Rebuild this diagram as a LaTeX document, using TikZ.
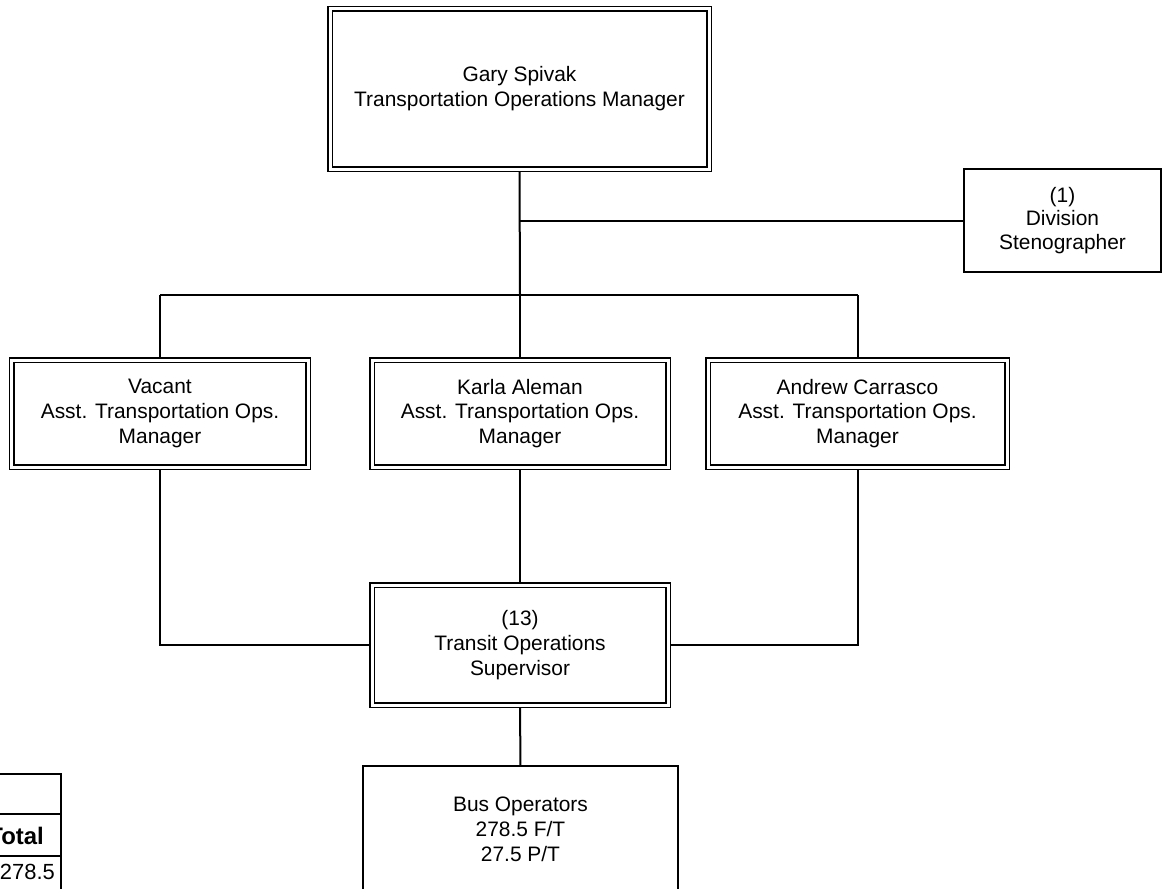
\documentclass[tikz,border=0pt]{standalone}
\usepackage{fontspec}
\setmainfont{Liberation Sans}
\tikzset{
  every node/.style={font=\fontsize{21}{25}\selectfont, align=center, inner sep=0pt},
  dbox/.style={draw, line width=1.5bp, double, double distance=3bp, outer sep=2.2bp,
    minimum width=296bp, minimum height=107bp},
  sbox/.style={draw, line width=1.8bp, outer sep=0pt},
  conn/.style={line width=2bp},
  tline/.style={line width=2.6bp},
  thinl/.style={line width=1.4bp}
}
\begin{document}
\begin{tikzpicture}[x=1bp, y=-1bp]
\useasboundingbox (0,0) rectangle (1162,889);
% nodes
\node[dbox, minimum width=379bp, minimum height=160bp] (top) at (519.5,89) {Gary Spivak\\Transportation Operations Manager};
\node[sbox, minimum width=197bp, minimum height=103bp, font=\fontsize{21}{24}\selectfont] (steno) at (1062.5,220.5) {(1)\\Division\\Stenographer};
\node[dbox] (vac) at (160,413.5) {Vacant\\Asst. Transportation Ops.\\Manager};
\node[dbox] (karla) at (520,413.5) {Karla Aleman\\Asst. Transportation Ops.\\Manager};
\node[dbox, minimum width=299bp] (andrew) at (857.5,413.5) {Andrew Carrasco\\Asst. Transportation Ops.\\Manager};
\node[dbox, minimum height=120bp] (sup) at (520,645) {(13)\\Transit Operations\\Supervisor};
\node[sbox, minimum width=315bp, minimum height=126bp] (bus) at (520.5,829) {Bus Operators\\278.5 F/T\\27.5 P/T};
% connectors
\coordinate (j1) at (top.south |- steno.west);
\coordinate (j2) at (520,295);
\coordinate (jl) at (vac.north |- j2);
\coordinate (jr) at (andrew.north |- j2);
\coordinate (bl) at (vac.south |- sup.west);
\coordinate (br) at (andrew.south |- sup.east);
\draw[conn] (top.south) -- (j2);
\draw[conn] (j1) -- (steno.west);
\draw[conn] (jl) -- (jr);
\draw[conn] (jl) -- (vac.north);
\draw[conn] (j2) -- (karla.north);
\draw[conn] (jr) -- (andrew.north);
\draw[conn] (vac.south) -- (bl) -- (sup.west);
\draw[conn] (andrew.south) -- (br) -- (sup.east);
\draw[conn] (karla.south) -- (sup.north);
\draw[conn] (sup.south) -- (bus.north);
% partial table at bottom left
\coordinate (t1) at (-5,774);
\coordinate (t2) at (61,774);
\coordinate (t3) at (61,856);
\coordinate (t4) at (-5,856);
\coordinate (t5) at (61,895);
\draw[tline] (t1) -- (t2) -- (t3) -- (t4);
\draw[thinl] (-5,814) -- (61,814);
\draw[thinl] (t3) -- (t5);
\node[anchor=base east, font=\bfseries\fontsize{24}{28}\selectfont] (tot) at (44,844) {Total};
\node[anchor=base east, font=\fontsize{22}{26}\selectfont] (val) at (55,879) {278.5};
\end{tikzpicture}
\end{document}
